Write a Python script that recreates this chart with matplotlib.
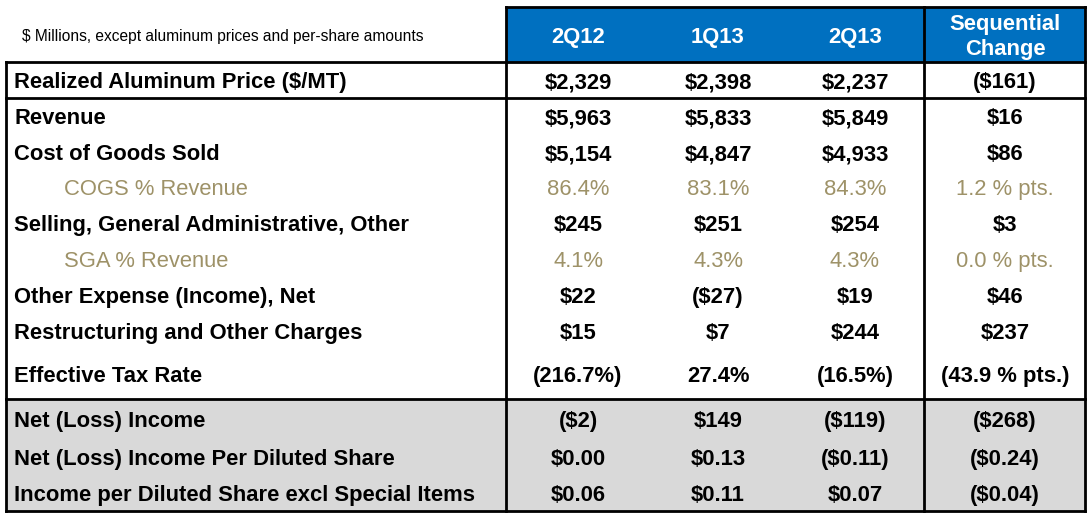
import matplotlib
matplotlib.use("Agg")
import matplotlib.pyplot as plt
from matplotlib.patches import Rectangle

plt.rcParams['font.family'] = ['Liberation Sans', 'DejaVu Sans']

subtitle = "$ Millions, except aluminum prices and per-share amounts"
columns = ["2Q12", "1Q13", "2Q13", "Sequential\nChange"]
row_labels = [
    "Realized Aluminum Price ($/MT)",
    "Revenue",
    "Cost of Goods Sold",
    "COGS % Revenue",
    "Selling, General Administrative, Other",
    "SGA % Revenue",
    "Other Expense (Income), Net",
    "Restructuring and Other Charges",
    "Effective Tax Rate",
    "Net (Loss) Income",
    "Net (Loss) Income Per Diluted Share",
    "Income per Diluted Share excl Special Items",
]
q2_12 = ["$2,329", "$5,963", "$5,154", "86.4%", "$245", "4.1%", "$22", "$15", "(216.7%)", "($2)", "$0.00", "$0.06"]
q1_13 = ["$2,398", "$5,833", "$4,847", "83.1%", "$251", "4.3%", "($27)", "$7", "27.4%", "$149", "$0.13", "$0.11"]
q2_13 = ["$2,237", "$5,849", "$4,933", "84.3%", "$254", "4.3%", "$19", "$244", "(16.5%)", "($119)", "($0.11)", "$0.07"]
seq_change = ["($161)", "$16", "$86", "1.2 % pts.", "$3", "0.0 % pts.", "$46", "$237", "(43.9 % pts.)", "($268)", "($0.24)", "($0.04)"]
sub_rows = [3, 5]

W, H = 1091, 519
fig = plt.figure(figsize=(W / 100, H / 100), dpi=100)
ax = fig.add_axes([0, 0, 1, 1])
ax.set_xlim(0, W)
ax.set_ylim(H, 0)
ax.axis('off')

blue = "#0070C0"
gray_txt = "#9E9268"
x_left, x_mid, x_div, x_right = 6, 506, 924, 1085
y_top_hdr, y_hdr, y_real, y_gray, y_bot = 7, 62, 98, 399, 511
lw = 2.0

# fills
ax.add_patch(Rectangle((x_mid, y_top_hdr), x_right - x_mid, y_hdr - y_top_hdr, color=blue, zorder=0))
ax.add_patch(Rectangle((x_left, y_gray), x_right - x_left, y_bot - y_gray, color="#D9D9D9", zorder=0))

# lines
for y, x0 in [(y_top_hdr, x_mid), (y_hdr, x_left), (y_real, x_left), (y_gray, x_left), (y_bot, x_left)]:
    ax.plot([x0, x_right], [y, y], color="black", lw=lw, solid_capstyle='projecting', zorder=2)
for x, y0 in [(x_left, y_hdr), (x_mid, y_top_hdr), (x_div, y_top_hdr), (x_right, y_top_hdr)]:
    ax.plot([x, x], [y0, y_bot], color="black", lw=lw, solid_capstyle='projecting', zorder=2)

fs = 15.8
dy = 1.5
ax.text(22, 36, subtitle, fontsize=11.2, ha='left', va='center', color="black")

col_x = [578, 718, 855, 1005]
for cx, c in zip(col_x, columns):
    ax.text(cx, 37, c, fontsize=fs, fontweight='bold', color="white", ha='center', va='center',
            linespacing=1.3)

row_y = [81, 117, 153, 188, 224, 260, 296, 332, 375, 420, 458, 494]
for i, (lab, y) in enumerate(zip(row_labels, row_y)):
    sub = i in sub_rows
    ax.text(64 if sub else 14, y + dy, lab, fontsize=fs, fontweight='normal' if sub else 'bold',
            color=gray_txt if sub else "black", ha='left', va='center')
    for cx, vals in zip(col_x, [q2_12, q1_13, q2_13, seq_change]):
        ax.text(cx, y + dy, vals[i], fontsize=fs, fontweight='normal' if sub else 'bold',
                color=gray_txt if sub else "black", ha='center', va='center')

fig.savefig("out.png", dpi=100)
